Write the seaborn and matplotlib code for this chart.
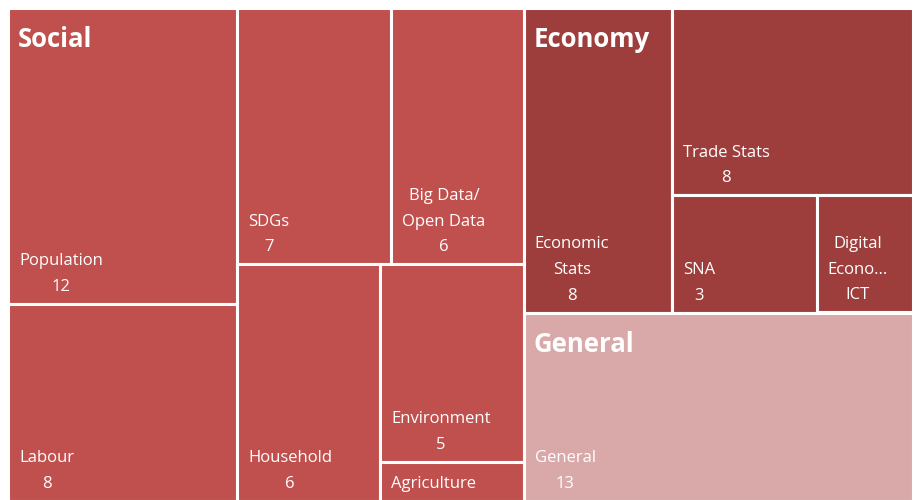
import numpy as np
import pandas as pd
import seaborn as sns
import matplotlib.pyplot as plt

# --- Data ---
groups = ["Social", "Economy", "General"]
group_colors = ["#C0504D", "#9E3E3C", "#D9A9A9"]

social_labels = ["Population", "Labour", "SDGs", "Big Data/\nOpen Data",
                 "Household", "Environment", "Agriculture"]
social_values = [12, 8, 7, 6, 6, 5, 1]

economy_labels = ["Economic\nStats", "Trade Stats", "SNA", "Digital\nEcono...\nICT"]
economy_values = [8, 8, 3, 2]

general_labels = ["General"]
general_values = [13]

group_labels = [social_labels, economy_labels, general_labels]
group_values = [social_values, economy_values, general_values]

# plot area in pixels
area_w, area_h = 905, 493


# --- Squarified layout (Excel keeps a row unless adding clearly helps) ---
def squarify(values, x, y, w, h, keep=0.942):
    total = sum(values)
    areas = [v / total * w * h for v in values]
    rects = []
    i = 0
    while i < len(areas):
        side = min(w, h)

        def worst(r):
            thick = sum(r) / side
            return max(max(thick / (a / thick), (a / thick) / thick) for a in r)

        row = [areas[i]]
        j = i + 1
        while j < len(areas) and worst(row + [areas[j]]) < worst(row) * keep:
            row.append(areas[j])
            j += 1
        thick = sum(row) / side
        pos = 0
        for a in row:
            length = a / thick
            if w >= h:
                rects.append((x, y + pos, thick, length))
            else:
                rects.append((x + pos, y, length, thick))
            pos += length
        if w >= h:
            x += thick
            w -= thick
        else:
            y += thick
            h -= thick
        i = j
    return rects


group_rects = squarify([sum(v) for v in group_values], 0, 0, area_w, area_h)

# --- Visualization ---
sns.set_theme(style="white")
plt.rcParams["font.family"] = ["Open Sans", "DejaVu Sans"]

fig = plt.figure(figsize=(9.18, 5.0), dpi=100)
ax = fig.add_axes([8 / 918, -1 / 500, area_w / 918, area_h / 500])
ax.set_xlim(0, area_w)
ax.set_ylim(area_h, 0)
ax.axis("off")

for gname, gcolor, grect, labels, values in zip(groups, group_colors, group_rects,
                                               group_labels, group_values):
    gx, gy, gw, gh = grect
    leaf_rects = squarify(values, gx, gy, gw, gh)
    for (cx, cy, cw, ch), lab, val in zip(leaf_rects, labels, values):
        ax.bar(cx, ch, width=cw, bottom=cy, align="edge", color=gcolor,
               edgecolor="white", linewidth=2.2)
        lines = lab.split("\n") + [str(val)]
        n_lines = int(min(3, (ch - 11) // 25))
        ax.annotate("\n".join(lines[:n_lines]), xy=(cx, cy + ch), xytext=(11, 13),
                    textcoords="offset pixels", ha="left", va="baseline",
                    multialignment="center", linespacing=1.8,
                    fontsize=12, color="white", zorder=3)
    ax.annotate(gname, xy=(gx, gy), xytext=(10, -39), textcoords="offset pixels",
                ha="left", va="baseline", fontsize=18.5, fontweight="bold",
                color="white", zorder=4)

plt.savefig("out.png", dpi=100)
